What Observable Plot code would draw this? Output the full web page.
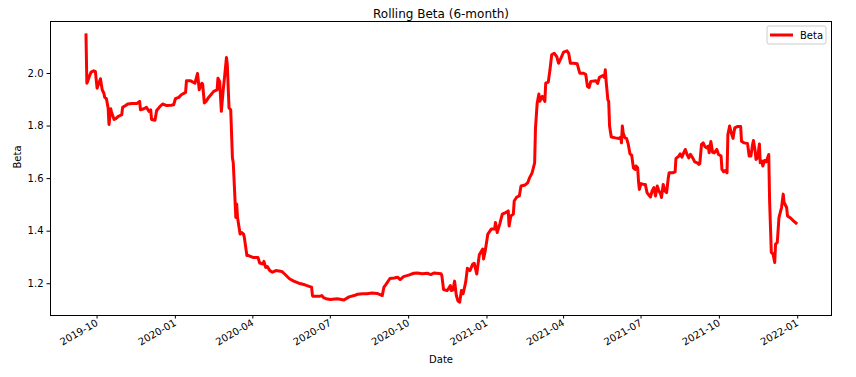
<!DOCTYPE html>
<html><head><meta charset="utf-8">
<script src="https://cdn.jsdelivr.net/npm/d3@7"></script>
<script src="https://cdn.jsdelivr.net/npm/@observablehq/plot@0.6"></script>
<style>
body{margin:0;background:#fff;}
#chart{width:856px;height:377px;}
</style>
</head><body><div id="chart"></div>
<script>
const dates = ["2019-09-18","2019-09-19","2019-09-20","2019-09-22","2019-09-24","2019-09-27","2019-09-29","2019-10-01","2019-10-03","2019-10-05","2019-10-07","2019-10-09","2019-10-10","2019-10-12","2019-10-14","2019-10-15","2019-10-17","2019-10-18","2019-10-21","2019-10-23","2019-10-26","2019-10-30","2019-10-31","2019-11-04","2019-11-06","2019-11-11","2019-11-17","2019-11-20","2019-11-21","2019-11-25","2019-11-28","2019-12-01","2019-12-03","2019-12-04","2019-12-08","2019-12-10","2019-12-14","2019-12-17","2019-12-22","2019-12-27","2019-12-30","2020-01-01","2020-01-05","2020-01-08","2020-01-13","2020-01-14","2020-01-19","2020-01-24","2020-01-27","2020-01-29","2020-02-01","2020-02-02","2020-02-04","2020-02-06","2020-02-09","2020-02-15","2020-02-19","2020-02-20","2020-02-22","2020-02-24","2020-02-26","2020-02-28","2020-03-01","2020-03-02","2020-03-04","2020-03-06","2020-03-08","2020-03-09","2020-03-12","2020-03-13","2020-03-14","2020-03-17","2020-03-19","2020-03-21","2020-03-22","2020-03-25","2020-03-27","2020-04-01","2020-04-07","2020-04-09","2020-04-13","2020-04-14","2020-04-16","2020-04-18","2020-04-21","2020-04-24","2020-04-28","2020-05-05","2020-05-08","2020-05-14","2020-05-19","2020-05-25","2020-06-01","2020-06-07","2020-06-09","2020-06-10","2020-06-11","2020-06-18","2020-06-21","2020-06-23","2020-06-26","2020-07-01","2020-07-09","2020-07-17","2020-07-23","2020-07-29","2020-08-02","2020-08-08","2020-08-13","2020-08-19","2020-08-25","2020-08-31","2020-09-02","2020-09-04","2020-09-09","2020-09-14","2020-09-18","2020-09-21","2020-09-25","2020-10-01","2020-10-07","2020-10-11","2020-10-17","2020-10-23","2020-10-27","2020-10-31","2020-11-08","2020-11-09","2020-11-11","2020-11-15","2020-11-17","2020-11-19","2020-11-20","2020-11-22","2020-11-24","2020-11-26","2020-11-28","2020-11-30","2020-12-02","2020-12-04","2020-12-07","2020-12-09","2020-12-12","2020-12-15","2020-12-17","2020-12-20","2020-12-23","2020-12-27","2020-12-28","2020-12-30","2021-01-02","2021-01-06","2021-01-10","2021-01-11","2021-01-13","2021-01-16","2021-01-19","2021-01-23","2021-01-26","2021-01-27","2021-01-29","2021-02-01","2021-02-02","2021-02-05","2021-02-08","2021-02-10","2021-02-15","2021-02-18","2021-02-20","2021-02-23","2021-02-26","2021-02-27","2021-03-01","2021-03-03","2021-03-04","2021-03-07","2021-03-10","2021-03-11","2021-03-14","2021-03-16","2021-03-18","2021-03-21","2021-03-24","2021-03-26","2021-03-28","2021-04-01","2021-04-05","2021-04-07","2021-04-09","2021-04-13","2021-04-17","2021-04-20","2021-04-24","2021-04-27","2021-04-29","2021-05-01","2021-05-03","2021-05-09","2021-05-11","2021-05-13","2021-05-17","2021-05-19","2021-05-20","2021-05-21","2021-05-23","2021-05-24","2021-05-25","2021-05-27","2021-06-01","2021-06-05","2021-06-07","2021-06-08","2021-06-09","2021-06-10","2021-06-12","2021-06-14","2021-06-16","2021-06-18","2021-06-20","2021-06-22","2021-06-24","2021-06-25","2021-06-27","2021-06-28","2021-06-29","2021-07-01","2021-07-04","2021-07-06","2021-07-08","2021-07-10","2021-07-12","2021-07-14","2021-07-16","2021-07-18","2021-07-20","2021-07-22","2021-07-24","2021-07-25","2021-07-27","2021-07-29","2021-07-31","2021-08-02","2021-08-03","2021-08-07","2021-08-10","2021-08-11","2021-08-14","2021-08-16","2021-08-18","2021-08-20","2021-08-22","2021-08-24","2021-08-26","2021-08-28","2021-08-31","2021-09-02","2021-09-05","2021-09-07","2021-09-08","2021-09-10","2021-09-12","2021-09-14","2021-09-16","2021-09-18","2021-09-19","2021-09-21","2021-09-23","2021-09-25","2021-09-28","2021-09-30","2021-10-03","2021-10-04","2021-10-06","2021-10-08","2021-10-10","2021-10-11","2021-10-13","2021-10-15","2021-10-17","2021-10-19","2021-10-22","2021-10-26","2021-10-27","2021-10-30","2021-11-03","2021-11-04","2021-11-05","2021-11-07","2021-11-09","2021-11-10","2021-11-12","2021-11-13","2021-11-15","2021-11-17","2021-11-18","2021-11-20","2021-11-21","2021-11-23","2021-11-25","2021-11-28","2021-11-29","2021-12-01","2021-12-03","2021-12-05","2021-12-06","2021-12-08","2021-12-10","2021-12-13","2021-12-15","2021-12-16","2021-12-19","2021-12-20","2021-12-24","2021-12-27","2021-12-30"];
const beta = [2.147,1.963,1.97,1.99,2.005,2.01,2.008,1.944,1.963,1.98,1.938,1.925,1.909,1.904,1.869,1.806,1.866,1.853,1.825,1.828,1.837,1.843,1.871,1.879,1.884,1.886,1.886,1.894,1.862,1.866,1.871,1.856,1.862,1.825,1.822,1.859,1.875,1.884,1.878,1.879,1.881,1.904,1.909,1.919,1.928,1.972,1.972,1.963,2.0,1.938,1.963,1.96,1.888,1.894,1.909,1.932,1.938,1.982,1.97,1.856,1.932,1.995,2.061,2.033,1.869,1.862,1.679,1.66,1.452,1.503,1.452,1.389,1.395,1.389,1.376,1.307,1.307,1.30,1.30,1.279,1.275,1.285,1.262,1.265,1.25,1.244,1.25,1.247,1.238,1.219,1.21,1.202,1.196,1.189,1.187,1.155,1.152,1.152,1.155,1.147,1.143,1.14,1.143,1.138,1.15,1.155,1.16,1.162,1.162,1.165,1.163,1.155,1.187,1.196,1.22,1.222,1.225,1.216,1.227,1.233,1.24,1.241,1.238,1.24,1.235,1.241,1.238,1.231,1.178,1.174,1.182,1.193,1.174,1.176,1.21,1.155,1.134,1.13,1.174,1.162,1.206,1.259,1.25,1.273,1.278,1.237,1.31,1.332,1.294,1.326,1.389,1.408,1.408,1.433,1.395,1.427,1.465,1.471,1.477,1.42,1.458,1.465,1.515,1.53,1.534,1.572,1.576,1.585,1.603,1.622,1.66,1.793,1.888,1.922,1.894,1.913,1.894,1.963,1.967,2.014,2.071,2.077,2.064,2.039,2.052,2.081,2.086,2.077,2.039,2.039,2.037,2.001,2.001,1.997,1.951,1.947,1.97,1.972,1.962,1.985,1.992,1.985,2.014,1.97,1.90,1.894,1.80,1.758,1.755,1.753,1.758,1.736,1.80,1.774,1.755,1.753,1.73,1.694,1.689,1.641,1.635,1.648,1.641,1.59,1.559,1.581,1.578,1.578,1.547,1.538,1.53,1.553,1.566,1.534,1.572,1.553,1.541,1.528,1.578,1.553,1.547,1.603,1.622,1.622,1.626,1.677,1.684,1.694,1.682,1.698,1.711,1.692,1.679,1.692,1.677,1.664,1.66,1.654,1.657,1.73,1.736,1.722,1.717,1.724,1.698,1.741,1.70,1.698,1.711,1.692,1.686,1.635,1.626,1.631,1.622,1.768,1.80,1.774,1.753,1.793,1.798,1.798,1.742,1.736,1.734,1.711,1.686,1.686,1.73,1.745,1.705,1.673,1.679,1.732,1.66,1.667,1.648,1.669,1.664,1.692,1.515,1.319,1.313,1.281,1.351,1.357,1.452,1.49,1.541,1.509,1.49,1.458,1.449,1.439,1.431];
const xTickDates = ["2019-10-01","2020-01-01","2020-04-01","2020-07-01","2020-10-01","2021-01-01","2021-04-01","2021-07-01","2021-10-01","2022-01-01"];
const yTicks = [1.2, 1.4, 1.6, 1.8, 2.0];
const titleText = "Rolling Beta (6-month)";
const xLabel = "Date";
const yLabel = "Beta";
const seriesName = "Beta";

const rows = dates.map((d, i) => ({date: new Date(d + "T00:00:00Z"), beta: beta[i]}));
const pad = (ext) => { const r = ext[1] - ext[0]; return [ext[0] - 0.05 * r, ext[1] + 0.05 * r]; };
const xExt = pad(d3.extent(rows, r => +r.date)).map(t => new Date(t));
const yExt = pad(d3.extent(beta));
const fmt = d3.utcFormat("%Y-%m");

const W = 856, H = 377, ML = 50, MR = 25, MT = 21, MB = 62;
const plot = Plot.plot({
  width: W, height: H,
  marginLeft: ML, marginRight: MR, marginTop: MT, marginBottom: MB,
  style: {fontFamily: "DejaVu Sans, sans-serif", fontSize: "10px", color: "#000", background: "#fff", overflow: "visible"},
  x: {type: "utc", domain: xExt},
  y: {domain: yExt},
  marks: [
    Plot.line(rows, {x: "date", y: "beta", stroke: "#ff0000", strokeWidth: 3, strokeLinejoin: "round", strokeLinecap: "square"}),
    Plot.frame({stroke: "#000", strokeWidth: 1}),
    Plot.axisY({ticks: yTicks, tickFormat: d => d.toFixed(1), tickSize: 3.5, tickPadding: 3.5, label: null, fontSize: 10}),
    Plot.axisX({ticks: xTickDates.map(d => new Date(d + "T00:00:00Z")), tickFormat: fmt, tickSize: 3.5, tickPadding: 3, tickRotate: -30, textAnchor: "end", label: null, fontSize: 10}),
    Plot.text([yLabel], {frameAnchor: "left", dx: -33, rotate: -90, text: d => d, fontSize: 10}),
    Plot.text([xLabel], {frameAnchor: "bottom", dy: 47, text: d => d, fontSize: 10}),
    Plot.text([titleText], {frameAnchor: "top", dy: -12, text: d => d, fontSize: 12})
  ]
});
document.getElementById("chart").appendChild(plot);

// legend (matplotlib style, upper right inside the frame)
const svgSel = d3.select(plot);
const frameRight = W - MR, frameTop = MT;
const lg = svgSel.append("g").attr("font-family", "DejaVu Sans, sans-serif").attr("font-size", 10).attr("text-anchor", "start");
lg.append("rect").attr("x", frameRight - 64).attr("y", frameTop + 5).attr("width", 59).attr("height", 18).attr("rx", 2)
  .attr("fill", "#fff").attr("fill-opacity", 0.8).attr("stroke", "#cccccc").attr("stroke-width", 1);
lg.append("line").attr("x1", frameRight - 61).attr("x2", frameRight - 38).attr("y1", frameTop + 14).attr("y2", frameTop + 14)
  .attr("stroke", "#ff0000").attr("stroke-width", 3);
lg.append("text").attr("x", frameRight - 31).attr("y", frameTop + 14).attr("dy", "0.35em").attr("text-anchor", "start").attr("fill", "#000").text(seriesName);
</script>
</body></html>
